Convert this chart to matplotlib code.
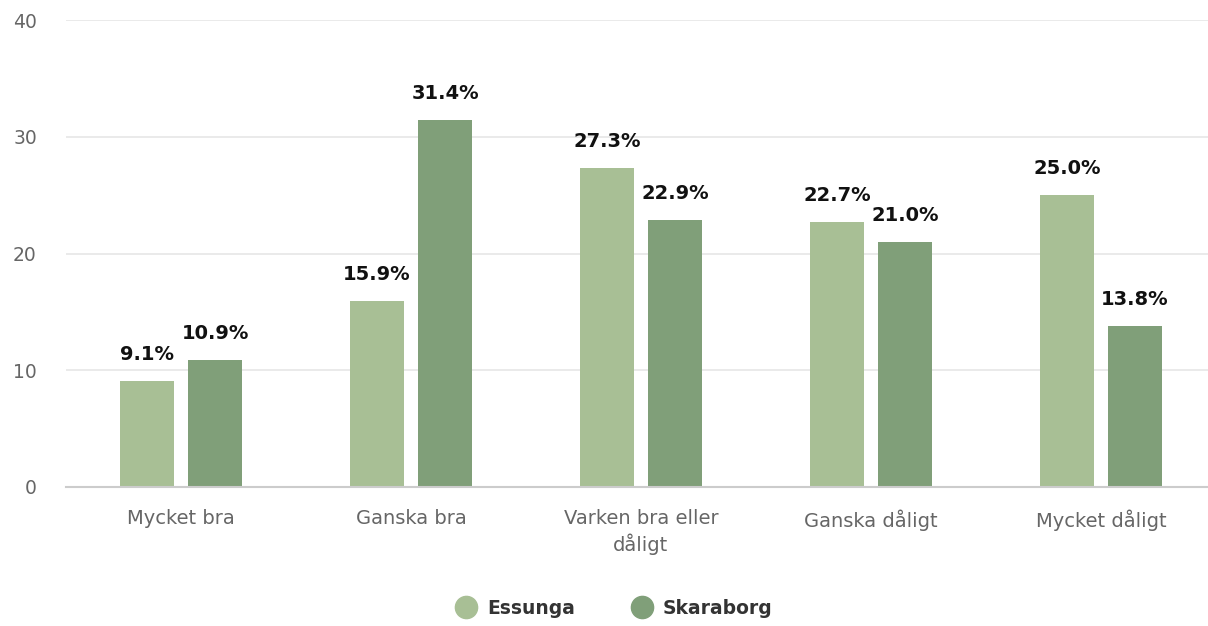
import numpy as np
import matplotlib.pyplot as plt
from matplotlib.lines import Line2D

categories = ['Mycket bra', 'Ganska bra', 'Varken bra eller\ndåligt', 'Ganska dåligt', 'Mycket dåligt']
essunga = [9.1, 15.9, 27.3, 22.7, 25.0]
skaraborg = [10.9, 31.4, 22.9, 21.0, 13.8]
series_names = ['Essunga', 'Skaraborg']
colors = ['#a8bf95', '#809f79']
yticks = [0, 10, 20, 30, 40]

W, H = 1208, 626
fig = plt.figure(figsize=(W / 100, H / 100), dpi=100)
ax = fig.add_axes([66 / W, 139 / H, 1150 / W, 467 / H])

x = np.arange(len(categories))
width = 0.235
offset = 0.148

for vals, off, color in zip([essunga, skaraborg], [-offset, offset], colors):
    bars = ax.bar(x + off, vals, width, color=color, zorder=3)
    for b, v in zip(bars, vals):
        ax.annotate(f'{v:.1f}%', (b.get_x() + b.get_width() / 2, v),
                    xytext=(0, 17), textcoords='offset pixels',
                    ha='center', va='bottom', fontsize=14,
                    fontweight='bold', color='#111111')

ax.set_xlim(-0.5, 4.5)
ax.set_ylim(0, 40)
ax.set_yticks(yticks)
ax.set_xticks(x)
ax.set_xticklabels(categories, fontsize=14, color='#666666', linespacing=1.3)
ax.tick_params(axis='y', labelsize=13.5, labelcolor='#666666', length=0, pad=21)
ax.tick_params(axis='x', length=0, pad=16)
for lab in ax.get_yticklabels():
    lab.set_horizontalalignment('right')

ax.grid(axis='y', color='#e6e6e6', linewidth=1.2, zorder=0)
for s in ['top', 'right', 'left']:
    ax.spines[s].set_visible(False)
ax.spines['bottom'].set_color('#cccccc')
ax.spines['bottom'].set_linewidth(1.5)
ax.spines['bottom'].set_zorder(4)

handles = [Line2D([], [], marker='o', linestyle='', markersize=16,
                  markerfacecolor=c, markeredgecolor=c) for c in colors]
leg = fig.legend(handles, series_names, loc='center', bbox_to_anchor=(610 / W, 1 - 608 / H),
                 ncol=2, frameon=False, handletextpad=0.1, columnspacing=2.6,
                 prop={'weight': 'bold', 'size': 13.5})
for t in leg.get_texts():
    t.set_color('#333333')

fig.savefig('out.png', dpi=100)
